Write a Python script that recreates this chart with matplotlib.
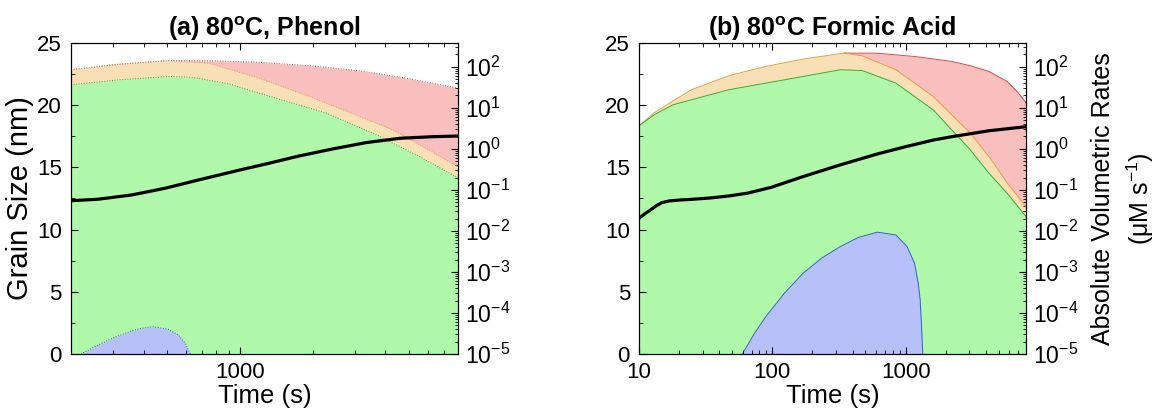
import numpy as np
import matplotlib.pyplot as plt
from matplotlib.ticker import LogLocator, FuncFormatter, MultipleLocator, NullFormatter

plt.rcParams['font.family'] = ['Liberation Sans', 'DejaVu Sans']
plt.rcParams['mathtext.fontset'] = 'custom'
plt.rcParams['mathtext.rm'] = 'Liberation Sans'
plt.rcParams['mathtext.bf'] = 'Liberation Sans:bold'

# ---- (a) 80C, Phenol ----
a_red_t = [200, 313, 506, 779, 1200, 1939, 3133, 5060, 8000]
a_red_r = [84.6, 115, 142, 140, 129, 106, 80, 51, 30.2]
a_tan_t = [200, 313, 506, 743, 1200, 1939, 3133, 4300, 5840, 8000]
a_tan_r = [84.6, 115, 142, 123, 53, 18.9, 6.14, 2.9, 1.06, 0.364]
a_grn_t = [200, 313, 506, 631, 900, 1200, 2280, 3687, 5570, 8000]
a_grn_r = [36.4, 48, 58, 56, 38.5, 22.8, 7.43, 2.19, 0.638, 0.196]
a_blu_t = [220, 259, 303, 356, 392, 438, 506, 557, 594, 624]
a_blu_r = [1e-5, 1.66e-5, 2.55e-5, 3.64e-5, 4.24e-5, 4.63e-5, 4.0e-5, 2.9e-5, 1.82e-5, 1e-5]
a_gs_t = [200, 259, 356, 490, 675, 1000, 1280, 1762, 2420, 3330, 4600, 6330, 8000]
a_gs = [12.32, 12.44, 12.78, 13.32, 13.99, 14.79, 15.27, 15.92, 16.48, 16.99, 17.34, 17.47, 17.52]

# ---- (b) 80C, Formic Acid ----
b_red_t = [345, 614, 1166, 2220, 3056, 4217, 5775, 7000, 8000]
b_red_r = [216, 214, 178, 135, 106, 76.8, 43.8, 23.2, 13.2]
b_tan_t = [10, 12.95, 17.9, 24.7, 47, 89.4, 170, 345, 472, 845, 1610, 3056, 4217, 5775, 8000]
b_tan_r = [3.64, 7.5, 14.5, 27.5, 60.3, 102, 154, 216, 185, 84.6, 18.9, 2.41, 0.649, 0.148, 0.039]
b_grn_t = [10, 12.95, 17.9, 24.7, 47, 89.4, 170, 323, 472, 845, 1610, 3056, 4217, 5775, 8000]
b_grn_r = [3.64, 6.74, 11.8, 15.7, 27.5, 40, 58, 84.6, 81.3, 40, 8.93, 0.946, 0.255, 0.083, 0.0223]
b_blu_t = [59.6, 73.6, 89.3, 123, 170, 234, 323, 445, 614, 846, 1026, 1167, 1244, 1285, 1318, 1344]
b_blu_r = [1e-5, 3.2e-5, 8.1e-5, 3.0e-4, 9.3e-4, 2.16e-3, 4.14e-3, 7.0e-3, 9.3e-3,
           7.98e-3, 4.14e-3, 1.62e-3, 5.3e-4, 2.07e-4, 4.6e-5, 1e-5]
b_gs_t = [10, 11.0, 12.2, 13.4, 14.8, 16.8, 20.4, 24.7, 34.1, 46.9, 64.6, 98.4, 169, 321,
          614, 995, 1616, 2230, 4250, 8000]
b_gs = [10.91, 11.25, 11.58, 11.90, 12.16, 12.30, 12.38, 12.43, 12.54, 12.70, 12.92, 13.40,
        14.25, 15.19, 16.08, 16.66, 17.20, 17.47, 17.95, 18.27]

fills = [('#F9BFBF', '#D84848'), ('#F8DFB6', '#E0A040'), ('#B0F9AA', '#30B030'), ('#B8C0F9', '#3060D0')]

fig = plt.figure(figsize=(11.65, 4.13), dpi=100)
axes_pos = [[0.0609, 0.1429, 0.3322, 0.753], [0.5485, 0.1429, 0.3322, 0.753]]

panels = [
    dict(title=r'(a) 80$^\mathbf{o}$C, Phenol', xlim=(200, 8000), ls=':',
         series=[(a_red_t, a_red_r), (a_tan_t, a_tan_r), (a_grn_t, a_grn_r), (a_blu_t, a_blu_r)],
         gs=(a_gs_t, a_gs)),
    dict(title=r'(b) 80$^\mathbf{o}$C Formic Acid', xlim=(10, 8000), ls='-',
         series=[(b_red_t, b_red_r), (b_tan_t, b_tan_r), (b_grn_t, b_grn_r), (b_blu_t, b_blu_r)],
         gs=(b_gs_t, b_gs)),
]

for i, (pos, p) in enumerate(zip(axes_pos, panels)):
    ax = fig.add_axes(pos)
    ax2 = ax.twinx()
    ax.set_zorder(ax2.get_zorder() + 1)
    ax.patch.set_visible(False)

    for (t, r), (fc, ec) in zip(p['series'], fills):
        ax2.fill_between(t, 1e-7, r, color=fc, lw=0)
        ax2.plot(t, r, color=ec, lw=0.7, ls=p['ls'])
    ax2.set_yscale('log')
    ax2.set_ylim(1e-5, 3.8e2)
    ax2.yaxis.set_major_locator(LogLocator(base=10, numticks=20))
    ax2.yaxis.set_minor_locator(LogLocator(base=10, subs=np.arange(2, 10), numticks=20))
    ax2.yaxis.set_minor_formatter(NullFormatter())
    ax2.tick_params(axis='y', which='major', direction='in', length=5, labelsize=16.5, pad=5)
    ax2.tick_params(axis='y', which='minor', direction='in', length=2.5)

    ax.plot(p['gs'][0], p['gs'][1], color='black', lw=2.3)
    ax.set_xscale('log')
    ax.set_xlim(*p['xlim'])
    ax.set_ylim(0, 25)
    ax.yaxis.set_major_locator(MultipleLocator(5))
    ax.yaxis.set_minor_locator(MultipleLocator(2.5))
    ax.xaxis.set_major_formatter(FuncFormatter(lambda v, _: '%d' % v))
    ax.xaxis.set_minor_formatter(NullFormatter())
    ax.tick_params(which='major', direction='in', length=5, labelsize=16, top=True)
    ax.tick_params(axis='y', which='major', pad=6.5)
    ax.tick_params(axis='x', which='major', pad=6)
    ax.tick_params(which='minor', direction='in', length=3, top=True)
    ax.set_xlabel('Time (s)', fontsize=18.5, labelpad=0.5)
    ax.set_title(p['title'], fontsize=18, fontweight='bold', pad=5)
    if i == 0:
        ax.set_ylabel('Grain Size (nm)', fontsize=21, labelpad=2)
    else:
        ax2.set_ylabel('Absolute Volumetric Rates\n(\u03bcM s$^{-1}$)', fontsize=18,
                       labelpad=9, linespacing=1.4)

plt.savefig('out.png', dpi=100)
